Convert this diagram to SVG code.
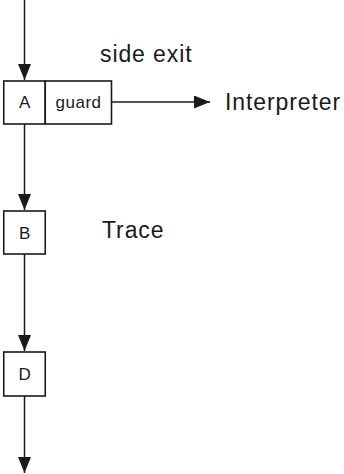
<svg xmlns="http://www.w3.org/2000/svg" width="344" height="474" viewBox="0 0 344 474">
  <style>
    .box { fill: #ffffff; stroke: #1a1a1a; stroke-width: 1.6; }
    .edge { fill: none; stroke: #1a1a1a; stroke-width: 1.5; }
    .node-label { font-family: "Liberation Sans", Arial, sans-serif; font-size: 17px; letter-spacing: 0.5px; fill: #1a1a1a; text-anchor: middle; }
    .caption { font-family: "Liberation Sans", Arial, sans-serif; font-size: 23px; letter-spacing: 0.9px; fill: #1a1a1a; }
  </style>
  <defs>
    <marker id="arrow" viewBox="0 0 16 13" refX="16" refY="6.5" markerWidth="16" markerHeight="13" markerUnits="userSpaceOnUse" orient="auto">
      <path d="M0,0 L16,6.5 L0,13 Z" fill="#1a1a1a"/>
    </marker>
  </defs>

  <rect width="344" height="474" fill="#ffffff"/>

  <g id="connectors">
    <line class="edge" x1="24.5" y1="0" x2="24.5" y2="80" marker-end="url(#arrow)"/>
    <line class="edge" x1="24.5" y1="124" x2="24.5" y2="210" marker-end="url(#arrow)"/>
    <line class="edge" x1="24.5" y1="254" x2="24.5" y2="351" marker-end="url(#arrow)"/>
    <line class="edge" x1="24.5" y1="396" x2="24.5" y2="473" marker-end="url(#arrow)"/>
    <line class="edge" x1="111.5" y1="102" x2="210" y2="102" marker-end="url(#arrow)"/>
  </g>

  <g id="node-A">
    <rect class="box" x="3.75" y="81" width="41.5" height="43"/>
    <text class="node-label" x="24.8" y="107.5">A</text>
  </g>

  <g id="node-guard">
    <rect class="box" x="45.25" y="81" width="66.25" height="43"/>
    <text class="node-label" x="78.6" y="107.5">guard</text>
  </g>

  <g id="node-B">
    <rect class="box" x="3.75" y="211" width="41.5" height="43"/>
    <text class="node-label" x="24.8" y="238.5">B</text>
  </g>

  <g id="node-D">
    <rect class="box" x="3.75" y="352" width="41.5" height="44"/>
    <text class="node-label" x="24.8" y="380">D</text>
  </g>

  <g id="labels">
    <text class="caption" x="100" y="62">side exit</text>
    <text class="caption" x="225" y="110">Interpreter</text>
    <text class="caption" x="102" y="238">Trace</text>
  </g>
</svg>
